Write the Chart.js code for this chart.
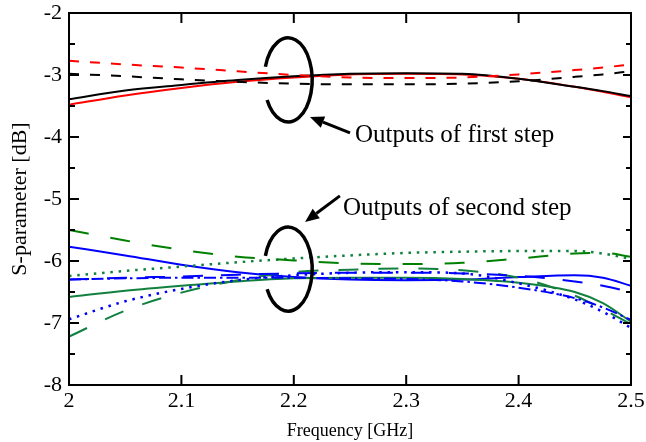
<!DOCTYPE html>
<html>
<head>
<meta charset="utf-8">
<script src="https://cdn.jsdelivr.net/npm/chart.js@4.4.1/dist/chart.umd.min.js"></script>
<style>
  html,body{margin:0;padding:0;background:#fff;}
  #wrap{width:646px;height:442px;}
</style>
</head>
<body>
<div id="wrap"><canvas id="cv" width="646" height="442"></canvas></div>
<script>
// frequency points [GHz]
const freq = [2.0, 2.05, 2.1, 2.15, 2.2, 2.25, 2.3, 2.35, 2.4, 2.45, 2.475, 2.5];

// outputs of first step [dB]
const blackSolid  = [-3.39, -3.25, -3.16, -3.08, -3.02, -2.98, -2.97, -2.98, -3.06, -3.19, -3.26, -3.34];
const redSolid    = [-3.48, -3.33, -3.21, -3.11, -3.04, -2.99, -2.98, -2.99, -3.06, -3.19, -3.27, -3.36];
const blackDashed = [-2.98, -3.02, -3.07, -3.11, -3.14, -3.15, -3.15, -3.14, -3.10, -3.03, -2.99, -2.94];
const redDashed   = [-2.77, -2.83, -2.88, -2.94, -3.00, -3.04, -3.05, -3.04, -2.99, -2.92, -2.88, -2.83];

// outputs of second step [dB]
const blueSolid    = [-5.77, -5.91, -6.06, -6.18, -6.26, -6.30, -6.31, -6.30, -6.26, -6.23, -6.27, -6.40];
const blueLongDash = [-6.30, -6.27, -6.25, -6.22, -6.20, -6.19, -6.19, -6.20, -6.24, -6.33, -6.40, -6.50];
const blueDashDot  = [-6.30, -6.28, -6.27, -6.27, -6.27, -6.28, -6.29, -6.33, -6.43, -6.60, -6.75, -6.95];
const blueDotted   = [-6.94, -6.65, -6.45, -6.31, -6.23, -6.19, -6.18, -6.20, -6.36, -6.62, -6.82, -7.08];
const greenSolid   = [-6.58, -6.48, -6.40, -6.33, -6.28, -6.27, -6.27, -6.29, -6.35, -6.50, -6.68, -6.98];
const greenDashUp  = [-5.50, -5.67, -5.82, -5.93, -5.99, -6.04, -6.05, -6.03, -5.96, -5.88, -5.87, -5.93];
const greenDashLow = [-7.22, -6.80, -6.51, -6.31, -6.18, -6.14, -6.12, -6.15, -6.27, -6.56, -6.78, -7.02];
const greenDotted  = [-6.24, -6.16, -6.09, -6.02, -5.96, -5.91, -5.87, -5.85, -5.84, -5.84, -5.88, -5.97];

// axis ticks
const xTicks = [2, 2.1, 2.2, 2.3, 2.4, 2.5];
const yTicks = [-2, -3, -4, -5, -6, -7, -8];
const yMinor = [-2.5, -3.5, -4.5, -5.5, -6.5, -7.5];

// annotation anchors (data units)
const rings = [[2.195, -3.08], [2.195, -6.13]];
const notes = [
  {text: "Outputs of first step",  tip: [2.2144, -3.677], tail: [2.25, -3.935], at: [2.2544, -3.968]},
  {text: "Outputs of second step", tip: [2.21, -5.37],    tail: [2.241, -4.95], at: [2.2438, -5.145]}
];

const SERIF = "'Liberation Serif', 'Times New Roman', serif";
const pts = arr => arr.map((v, i) => ({x: freq[i], y: v}));
const GREEN = '#008000', GREEN2 = '#12803f';

function ds(data, color, dash, w){
  return {data: pts(data), borderColor: color, borderWidth: w || 2, borderDash: dash || [],
    borderCapStyle: 'butt', pointRadius: 0, fill: false, cubicInterpolationMode: 'monotone'};
}

const frame = {
  id: 'frame',
  afterDraw(chart){
    const ctx = chart.ctx, a = chart.chartArea;
    const xs = chart.scales.x, ys = chart.scales.y;
    ctx.save();
    ctx.strokeStyle = '#000';
    ctx.lineWidth = 2;
    ctx.strokeRect(a.left, a.top, a.right - a.left, a.bottom - a.top);
    ctx.beginPath();
    yTicks.forEach(v => {
      const p = ys.getPixelForValue(v);
      ctx.moveTo(a.left, p); ctx.lineTo(a.left + 10, p);
      ctx.moveTo(a.right, p); ctx.lineTo(a.right - 8, p);
    });
    yMinor.forEach(v => {
      const p = ys.getPixelForValue(v);
      ctx.moveTo(a.left, p); ctx.lineTo(a.left + 6, p);
      ctx.moveTo(a.right, p); ctx.lineTo(a.right - 5, p);
    });
    xTicks.forEach(v => {
      const p = xs.getPixelForValue(v);
      ctx.moveTo(p, a.top); ctx.lineTo(p, a.top + 10);
      ctx.moveTo(p, a.bottom); ctx.lineTo(p, a.bottom - 10);
    });
    ctx.stroke();

    // rings
    ctx.lineWidth = 3.5;
    rings.forEach(r => {
      const cx = xs.getPixelForValue(r[0]), cy = ys.getPixelForValue(r[1]);
      ctx.beginPath();
      ctx.ellipse(cx, cy, 24, 42, 0, Math.PI + 0.32, 3 * Math.PI - 0.5);
      ctx.stroke();
    });

    // arrows + text
    ctx.fillStyle = '#000';
    ctx.font = '25px ' + SERIF;
    ctx.textBaseline = 'middle';
    ctx.textAlign = 'left';
    notes.forEach(n => {
      const tx = xs.getPixelForValue(n.tip[0]), ty = ys.getPixelForValue(n.tip[1]);
      const sx = xs.getPixelForValue(n.tail[0]), sy = ys.getPixelForValue(n.tail[1]);
      const ang = Math.atan2(ty - sy, tx - sx);
      const L = 14, W = 6;
      const bx = tx - L * Math.cos(ang), by = ty - L * Math.sin(ang);
      ctx.lineWidth = 3;
      ctx.beginPath(); ctx.moveTo(sx, sy); ctx.lineTo(bx, by); ctx.stroke();
      ctx.beginPath();
      ctx.moveTo(tx, ty);
      ctx.lineTo(bx + W * Math.sin(ang), by - W * Math.cos(ang));
      ctx.lineTo(bx - W * Math.sin(ang), by + W * Math.cos(ang));
      ctx.closePath(); ctx.fill();
      ctx.fillText(n.text, xs.getPixelForValue(n.at[0]), ys.getPixelForValue(n.at[1]));
    });
    ctx.restore();
  }
};

new Chart(document.getElementById('cv'), {
  type: 'line',
  data: {
    datasets: [
      ds(blackDashed, '#000', [10, 11]),
      ds(redDashed, '#ff0000', [10, 11]),
      ds(blackSolid, '#000'),
      ds(redSolid, '#ff0000'),
      ds(greenDashUp, GREEN, [20, 22]),
      ds(greenDotted, GREEN2, [2.5, 5.8], 2.5),
      ds(blueDotted, '#0000ff', [2.5, 5.8], 2.5),
      ds(blueDashDot, '#0000ff', [12, 4, 2.5, 4]),
      ds(blueLongDash, '#0000ff', [20, 18]),
      ds(greenDashLow, GREEN2, [20, 20]),
      ds(greenSolid, GREEN2),
      ds(blueSolid, '#0000ff')
    ]
  },
  options: {
    responsive: false,
    animation: false,
    layout: {padding: {top: 13, right: 15, left: 0, bottom: 0}},
    plugins: {legend: {display: false}, tooltip: {enabled: false}},
    scales: {
      x: {
        type: 'linear', min: 2, max: 2.5,
        afterFit: s => { s.height = 57; s.paddingLeft = 0; s.paddingRight = 0; },
        afterBuildTicks: s => { s.ticks = xTicks.map(v => ({value: v})); },
        grid: {display: false, drawTicks: false},
        border: {display: false},
        ticks: {color: '#000', font: {family: SERIF, size: 22}, padding: 3, maxRotation: 0,
          callback: v => String(Number(v.toFixed(1)))},
        title: {display: true, text: 'Frequency [GHz]', color: '#000',
          font: {family: SERIF, size: 18}, padding: {top: 0, bottom: 0}}
      },
      y: {
        min: -8, max: -2,
        afterFit: s => { s.width = 69; s.paddingTop = 0; s.paddingBottom = 0; },
        afterBuildTicks: s => { s.ticks = yTicks.map(v => ({value: v})); },
        grid: {display: false, drawTicks: false},
        border: {display: false},
        ticks: {color: '#000', font: {family: SERIF, size: 22}, padding: 7},
        title: {display: true, text: 'S-parameter [dB]', color: '#000',
          font: {family: SERIF, size: 22}, padding: {top: 7, bottom: 0}}
      }
    }
  },
  plugins: [frame]
});
</script>
</body>
</html>
